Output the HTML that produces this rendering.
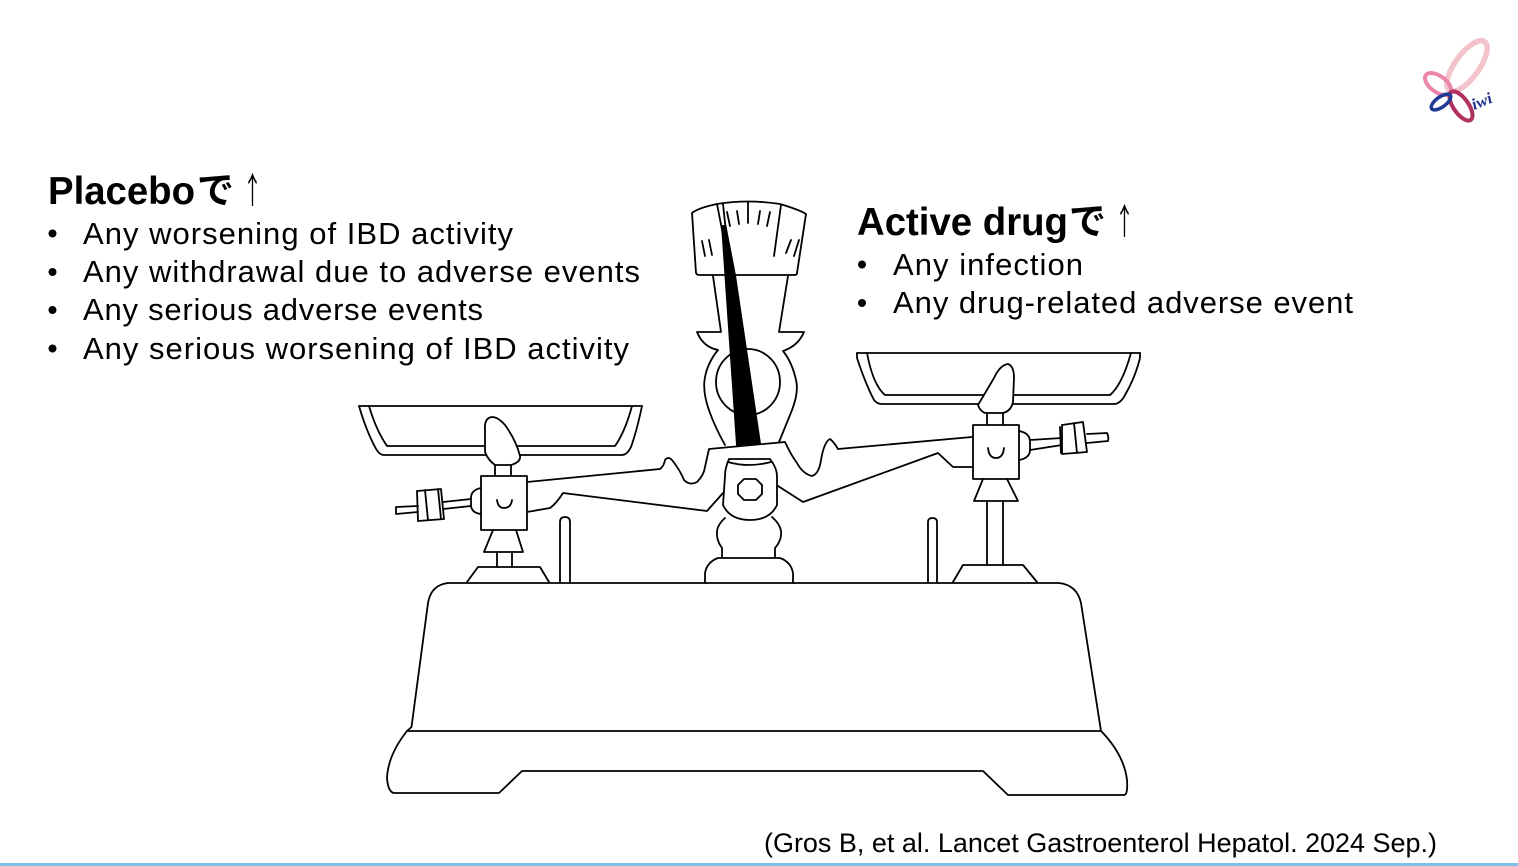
<!DOCTYPE html>
<html><head><meta charset="utf-8"><style>
html,body{margin:0;padding:0;background:#fff;width:1518px;height:866px;overflow:hidden}
svg{display:block}
text{font-family:"Liberation Sans","Noto Sans CJK JP",sans-serif;fill:#000}
.b{font-size:31px}
.h{font-size:39px;font-weight:bold}
.j{font-family:"Noto Sans CJK JP","Liberation Sans",sans-serif}
.l path,.l ellipse,.l polygon,.l circle{fill:none;stroke:#000;stroke-width:1.8;stroke-linejoin:round;stroke-linecap:round}
.l .w{fill:#fff}
</style></head><body>
<svg width="1518" height="866" viewBox="0 0 1518 866" xmlns="http://www.w3.org/2000/svg">
<rect width="1518" height="866" fill="#fff"/>
<rect x="0" y="863" width="1518" height="3" fill="#7bc0e9"/>

<!-- logo -->
<g fill="none">
<ellipse cx="1467" cy="66" rx="30" ry="12" transform="rotate(-54 1467 66)" stroke="#f3c3cb" stroke-width="5.500"/>
<ellipse cx="1438" cy="84" rx="15" ry="8" transform="rotate(36 1438 84)" stroke="#ea85ab" stroke-width="4"/>
<ellipse cx="1461" cy="106" rx="17" ry="7.500" transform="rotate(55 1461 106)" stroke="#b0305f" stroke-width="4"/>
<ellipse cx="1441" cy="102" rx="11.500" ry="5" transform="rotate(-36 1441 102)" stroke="#1f3a96" stroke-width="3.500"/>
</g>
<text x="1474" y="110" transform="rotate(-22 1474 110)" style="font-size:16px;font-style:italic;font-weight:bold;font-family:'Liberation Serif',serif;fill:#24348f" textLength="21" lengthAdjust="spacingAndGlyphs">iwi</text>

<!-- scale -->
<g class="l">
<!-- body -->
<path d="M448 583H1059Q1077 585 1081 603L1101 731"/>
<path d="M448 583Q431 585 428 603L411.500 727L407 731"/>
<path d="M407 731H1101" stroke-width="2"/>
<path d="M407 731Q388 755 387 778Q388 792 394 793H499L522 771H983L1008 795H1124Q1128 795 1127 780Q1124 755 1102 732"/>

<!-- posts and bases -->
<path d="M560 582V522Q560 517 565 517Q570 517 570 522V582"/>
<path d="M928 582V522Q928 518 932.500 518Q937 518 937 522V582"/>
<path d="M467 582L478 567H540L549 582"/>
<path d="M953 582L963 565H1023L1037 582"/>
<path d="M497 552V567M512 552V567"/>
<path d="M987 501V565M1003 501V565"/>

<!-- center foot -->
<path d="M705 583V573Q707 562 718 558H780Q791 562 793 573V583"/>
<path d="M722 558V548Q716 540 717 531Q718 524 725 518"/>
<path d="M775 558V548Q782 540 781 531Q780 524 772 517"/>

<!-- beam -->
<path d="M527 482L660 469Q664 466 665 460Q668 456 672 460Q680 470 684 480Q690 486 697 482Q704 475 705 467L709 449L785 442Q791 455 797 463Q803 474 812 476Q819 474 821 460Q824 442 830 439Q834 442 838 449L972 437"/>
<path d="M527 512L550 508Q556 504 563 493L707 511L723 493"/>
<path d="M778 486L803 502L938 453L953 467H972"/>

<!-- center knob -->
<path class="w" d="M729 459H770Q777 468 777 476L777 505Q770 520 750 520Q730 520 723 505L725 476Q725 468 729 459Z"/>
<path d="M728 462Q748 468 771 462"/>
<polygon points="744,479 756,479 762,485 762,494 756,500 744,500 738,494 738,485"/>

<!-- dial pillar -->
<path d="M725 445Q715 427 710 413Q702 392 705 377Q708 362 718 350Q703 347 697 332H721L713 276"/>
<path d="M779 442Q786 425 792 410Q799 392 796 380Q792 362 783 351Q798 346 804 332H779L788 276"/>
<ellipse cx="748" cy="382" rx="32" ry="33"/>

<!-- dial -->
<path d="M696 273Q697 275 699 275H794Q797 275 797 273L806 214Q800 210 780 204Q748 199 717 204Q698 208 692 213Z"/>
<path d="M748 202V223M737 211L739 224M727 212L730 226M760 211L758 224M770 212L767 226M781 205L774 256M702 241L705 256M709 240L712 255M791 240L786 253M799 240L794 256M717 204L724 240M723 204L726 232"/>
<polygon points="722,226 725.500,226 729,244 735,275 760,443 737,446" style="fill:#000"/>

<!-- left pan assembly -->
<path d="M359 406H642" stroke-width="2"/>
<path d="M359 406Q366 430 375 447Q379 455 384 455H622Q627 455 631 447Q637 430 642 406"/>
<path d="M369 406Q376 430 387 446H615Q625 432 632 406"/>
<path class="w" d="M492 417Q484 418 485 430L485 452Q488 460 495 465H511Q521 462 520 456Q516 440 505 425Q498 417 492 417Z"/>
<path d="M495 465V476M511 465V476"/>
<path class="w" d="M481 476H527V530H481Z"/>
<path d="M497 500Q498 508 504 508Q511 508 512 500"/>
<path d="M481 488Q471 490 471 498V506Q472 513 481 514"/>
<path d="M471 499L443 502M471 506L443 509"/>
<polygon class="w" points="417,491 441,489 444,519 418,521"/>
<path d="M425 490L428 520M438 489L441 519"/>
<path d="M418 506L396 507V514L418 512"/>
<path d="M493 530L484 552H523L516 530"/>

<!-- right pan assembly -->
<path d="M857 353H1140" stroke-width="2"/>
<path d="M857 353V358Q866 385 874 400Q877 404 882 404H1115Q1121 403 1125 395Q1135 378 1140 358V353"/>
<path d="M867 353Q873 385 885 395H1110Q1122 385 1131 353"/>
<path class="w" d="M1008 364Q1000 365 994 378Q984 395 978 405Q980 411 985 413H1003Q1011 411 1013 402L1014 378Q1014 366 1008 364Z"/>
<path d="M987 413V425M1003 413V425"/>
<path class="w" d="M973 425H1019V479H973Z"/>
<path d="M988 448Q989 458 996 458Q1003 458 1004 448"/>
<path d="M1019 431Q1030 433 1030 442V450Q1030 458 1019 460"/>
<path d="M1030 440L1062 438M1030 450L1062 445"/>
<polygon class="w" points="1062,425 1083,422 1087,452 1062,454"/>
<path d="M1074 423L1077 453M1060 427L1061 453"/>
<path d="M1087 434L1107 433Q1109 437 1108 441L1087 443"/>
<path d="M983 479L974 501H1018L1007 479"/>
</g>

<!-- text -->
<text class="h" x="48" y="204" textLength="147" lengthAdjust="spacingAndGlyphs">Placebo</text>
<text class="h j" x="197" y="203" style="font-size:37px">で</text>
<text class="j" x="243" y="203" style="font-size:36px;font-weight:400" textLength="19" lengthAdjust="spacingAndGlyphs">↑</text>

<circle cx="52.500" cy="233.500" r="4" fill="#000"/>
<circle cx="52.500" cy="272" r="4" fill="#000"/>
<circle cx="52.500" cy="310" r="4" fill="#000"/>
<circle cx="52.500" cy="348.500" r="4" fill="#000"/>
<text class="b" x="83" y="244" textLength="430">Any worsening of IBD activity</text>
<text class="b" x="83" y="282" textLength="557">Any withdrawal due to adverse events</text>
<text class="b" x="83" y="320" textLength="400">Any serious adverse events</text>
<text class="b" x="83" y="359" textLength="546">Any serious worsening of IBD activity</text>

<text class="h" x="857" y="235" textLength="211" lengthAdjust="spacingAndGlyphs">Active drug</text>
<text class="h j" x="1069" y="234" style="font-size:37px">で</text>
<text class="j" x="1115" y="234" style="font-size:36px;font-weight:400" textLength="19" lengthAdjust="spacingAndGlyphs">↑</text>

<circle cx="862" cy="264.500" r="4" fill="#000"/>
<circle cx="862" cy="303" r="4" fill="#000"/>
<text class="b" x="893" y="275" textLength="190">Any infection</text>
<text class="b" x="893" y="313" textLength="460">Any drug-related adverse event</text>

<text x="764" y="852" style="font-size:27px" textLength="673" lengthAdjust="spacingAndGlyphs">(Gros B, et al. Lancet Gastroenterol Hepatol. 2024 Sep.)</text>
</svg>
</body></html>
